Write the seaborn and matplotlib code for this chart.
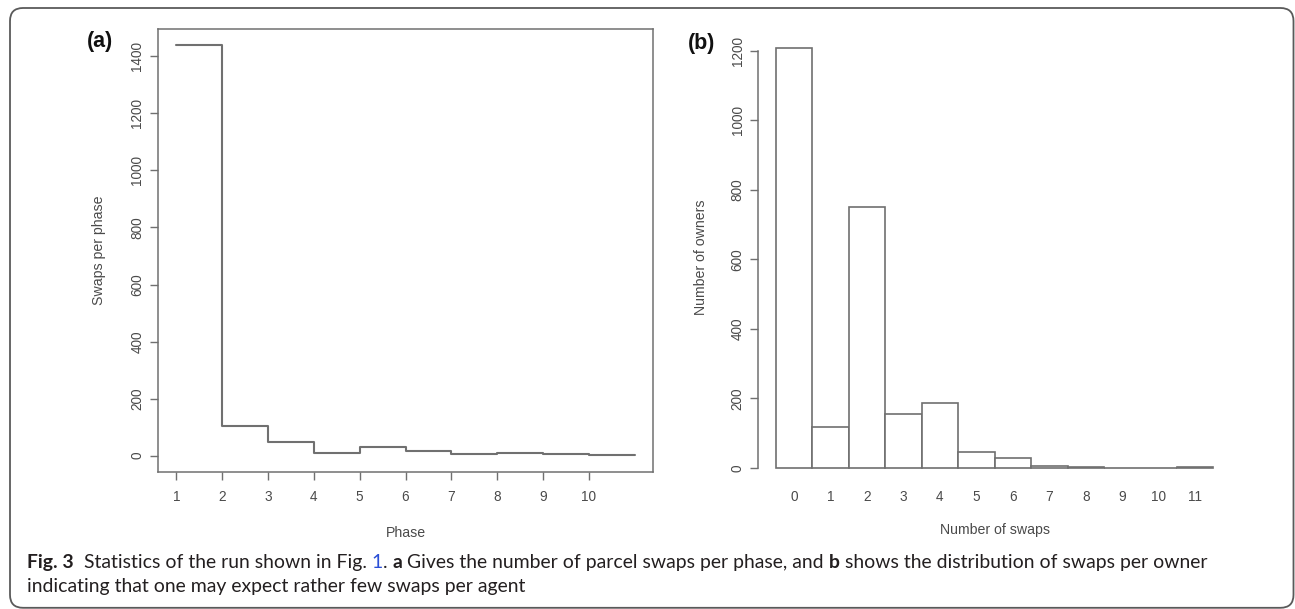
import matplotlib
matplotlib.use("Agg")
import matplotlib.pyplot as plt
import seaborn as sns
import numpy as np
import pandas as pd
from matplotlib.patches import FancyBboxPatch

# ---------------- data ----------------
phase = [1, 2, 3, 4, 5, 6, 7, 8, 9, 10, 11]
swaps_per_phase = [1440, 103, 47, 10, 30, 15, 6, 9, 4, 2, 2]
phase_ticks = [1, 2, 3, 4, 5, 6, 7, 8, 9, 10]
yticks_a = [0, 200, 400, 600, 800, 1000, 1200, 1400]

swap_counts = ["0", "1", "2", "3", "4", "5", "6", "7", "8", "9", "10", "11"]
owners = [1209, 118, 752, 154, 188, 45, 29, 7, 3, 0, 0, 2]
yticks_b = [0, 200, 400, 600, 800, 1000, 1200]

caption_line1 = [
    ("Fig. 3", "bold", "#231f20", 0),
    ("Statistics of the run shown in Fig.", "normal", "#231f20", 2),
    ("1", "normal", "#2b4fd6", 1),
    (".", "normal", "#231f20", 0),
    ("a", "bold", "#231f20", 1),
    ("Gives the number of parcel swaps per phase, and", "normal", "#231f20", 1),
    ("b", "bold", "#231f20", 1),
    ("shows the distribution of swaps per owner", "normal", "#231f20", 1),
]
caption_line2 = [
    ("indicating that one may expect rather few swaps per agent", "normal", "#231f20", 0),
]

# ---------------- style ----------------
sns.set_theme(style="white")
plt.rcParams['font.family'] = ['Liberation Sans', 'DejaVu Sans']

LINE = "#707070"
TEXT = "#4a4a4a"
W, H = 1295, 609
fig = plt.figure(figsize=(W / 100, H / 100), dpi=100)
fig.patch.set_facecolor("white")


def px_axes(l, t, r, b):
    return fig.add_axes([l / W, 1 - b / H, (r - l) / W, (b - t) / H])


# ---------------- panel (a) ----------------
ax1 = px_axes(158, 28.6, 653, 472)
ax1.set_facecolor("white")
sns.lineplot(x=phase, y=swaps_per_phase, ax=ax1, drawstyle="steps-post",
             color=LINE, linewidth=1.5)
ax1.set_xlim(0.6, 11.4)
ax1.set_ylim(-57.6, 1497.6)
ax1.set_xticks(phase_ticks)
ax1.set_xticklabels([str(v) for v in phase_ticks])
ax1.set_yticks(yticks_a)
ax1.set_yticklabels([str(v) for v in yticks_a])
for s in ax1.spines.values():
    s.set_visible(True)
    s.set_color(LINE)
    s.set_linewidth(1.1)
ax1.tick_params(axis="both", direction="out", length=5.8, width=1.0,
                color=LINE, labelcolor=TEXT, labelsize=9.8)
ax1.tick_params(axis="x", pad=7, bottom=True)
ax1.tick_params(axis="y", pad=4, left=True)
for lab in ax1.get_yticklabels():
    lab.set_rotation(90)
    lab.set_va("center")
ax1.set_xlabel("Phase", fontsize=10.2, color=TEXT, va="center", ha="center")
ax1.xaxis.set_label_coords(0.5, -0.137)
ax1.set_ylabel("Swaps per phase", fontsize=10.2, color=TEXT, va="center", ha="center")
ax1.yaxis.set_label_coords(-0.119, 0.5)
ax1.grid(False)

# ---------------- panel (b) ----------------
ax2 = px_axes(758.2, 30.6, 1231, 484.8)
ax2.set_facecolor("white")
sns.barplot(x=swap_counts, y=owners, ax=ax2, color="white", saturation=1,
            edgecolor=LINE, linewidth=1.2, width=1)
ax2.set_xlim(-0.98, 11.98)
ax2.set_ylim(-48.4, 1258.4)
ax2.set_yticks(yticks_b)
ax2.set_yticklabels([str(v) for v in yticks_b])
for k, s in ax2.spines.items():
    s.set_visible(k == "left")
ax2.spines["left"].set_color(LINE)
ax2.spines["left"].set_linewidth(1.1)
ax2.spines["left"].set_bounds(0, 1200)
ax2.tick_params(axis="y", direction="out", length=5.8, width=1.0, left=True,
                color=LINE, labelcolor=TEXT, labelsize=9.8, pad=4)
ax2.tick_params(axis="x", length=0, labelcolor=TEXT, labelsize=9.8, pad=4)
for lab in ax2.get_yticklabels():
    lab.set_rotation(90)
    lab.set_va("center")
ax2.set_xlabel("Number of swaps", fontsize=10.2, color=TEXT, va="center", ha="center")
ax2.xaxis.set_label_coords(0.5, -0.0995)
ax2.set_ylabel("Number of owners", fontsize=10.2, color=TEXT, va="center", ha="center")
ax2.yaxis.set_label_coords(-0.122, 0.5)
ax2.grid(False)

# ---------------- panel labels ----------------
fig.text(100 / W, 1 - 41.5 / H, "(a)", fontsize=15.5, weight="bold",
         ha="center", va="center", color="#111111")
fig.text(702 / W, 1 - 43 / H, "(b)", fontsize=15.5, weight="bold",
         ha="center", va="center", color="#111111")

# ---------------- caption ----------------
CAP_FONT = ["Lato", "DejaVu Sans"]
renderer = fig.canvas.get_renderer()


def measure(s, size, weight):
    t = fig.text(0, 0, "|" + s + "|", fontsize=size, weight=weight, family=CAP_FONT)
    w1 = t.get_window_extent(renderer).width
    t.remove()
    t = fig.text(0, 0, "||", fontsize=size, weight=weight, family=CAP_FONT)
    w0 = t.get_window_extent(renderer).width
    t.remove()
    return w1 - w0


def line_width(pieces, size):
    sp = measure(" ", size, "normal")
    return sum(measure(p, size, w) + g * sp for p, w, c, g in pieces)


base = 12.0
target = 1203 - 27
size = base * target / line_width(caption_line1, base)


def draw_line(pieces, x0, ybase, size):
    sp = measure(" ", size, "normal")
    x = x0
    for p, w, c, g in pieces:
        x += g * sp
        fig.text(x / W, 1 - ybase / H, p, fontsize=size, weight=w, color=c,
                 family=CAP_FONT, ha="left", va="baseline")
        x += measure(p, size, w)


draw_line(caption_line1, 27, 568, size)
draw_line(caption_line2, 27, 592, size)

# ---------------- border ----------------
border = FancyBboxPatch((10 / 100, 1.2 / 100), (1293.5 - 10) / 100, (607.8 - 8) / 100,
                        boxstyle="round,pad=0,rounding_size=0.13",
                        transform=fig.dpi_scale_trans, fill=False,
                        edgecolor="#5a5a5a", linewidth=1.3)
fig.add_artist(border)

fig.savefig("out.png", dpi=100, facecolor="white")
